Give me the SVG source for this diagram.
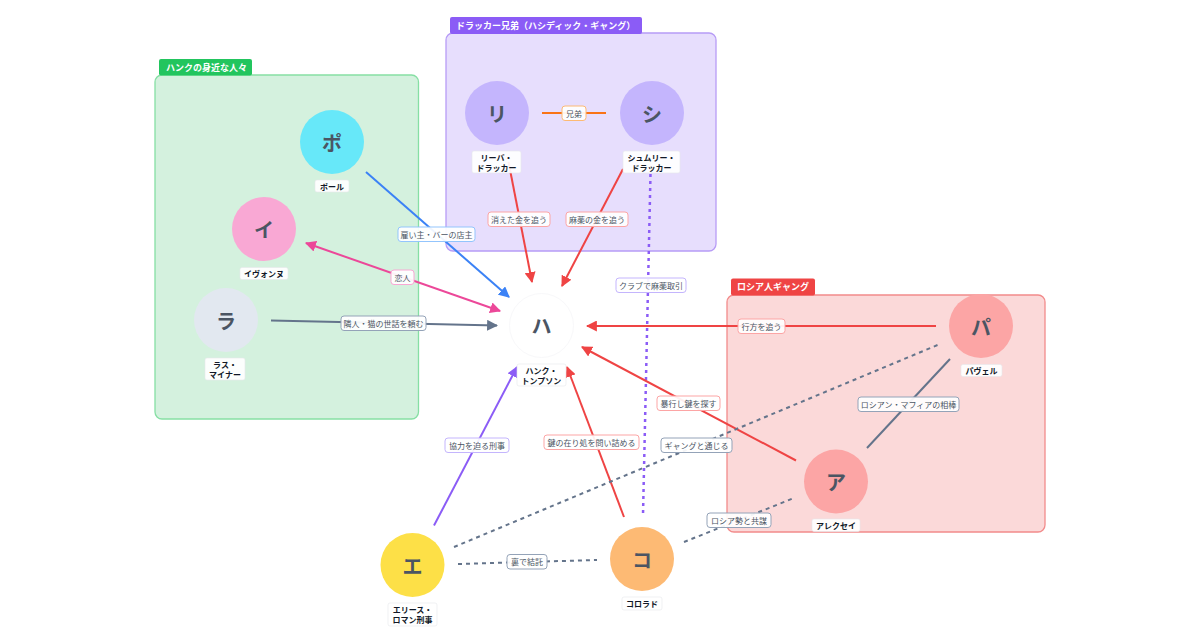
<svg xmlns="http://www.w3.org/2000/svg" width="1200" height="630" viewBox="0 0 1200 630">
<style>
text{font-family:"Noto Sans CJK JP","Noto Sans",sans-serif}
.grp{stroke-width:1.3}
.tab{font-size:9px;font-weight:bold;fill:#fff}
.ln{fill:none;stroke-width:2}
.dash{stroke-dasharray:4 4}
.dot{stroke-dasharray:3 4;stroke-width:2.5}
.el rect{fill:#fff;fill-opacity:.92;stroke-width:1}
.el text{font-size:8px;fill:#4b5563;text-anchor:middle;dominant-baseline:central}
.nd text.l{font-size:20px;font-weight:bold;fill:#4b5563;text-anchor:middle;dominant-baseline:central}
.nd rect{fill:#fff;fill-opacity:.92;stroke:#e5e7eb;stroke-width:.6}
.nd text.n{font-size:8px;font-weight:bold;fill:#111827;text-anchor:middle;dominant-baseline:central}
</style>
<defs>
<marker id="aBlue" viewBox="0 0 10 10" refX="9" refY="5" markerWidth="11" markerHeight="11" markerUnits="userSpaceOnUse" orient="auto-start-reverse"><path d="M0,0L10,5L0,10z" fill="#3b82f6"/></marker>
<marker id="aPink" viewBox="0 0 10 10" refX="9" refY="5" markerWidth="11" markerHeight="11" markerUnits="userSpaceOnUse" orient="auto-start-reverse"><path d="M0,0L10,5L0,10z" fill="#ec4899"/></marker>
<marker id="aGray" viewBox="0 0 10 10" refX="9" refY="5" markerWidth="11" markerHeight="11" markerUnits="userSpaceOnUse" orient="auto-start-reverse"><path d="M0,0L10,5L0,10z" fill="#64748b"/></marker>
<marker id="aRed" viewBox="0 0 10 10" refX="9" refY="5" markerWidth="11" markerHeight="11" markerUnits="userSpaceOnUse" orient="auto-start-reverse"><path d="M0,0L10,5L0,10z" fill="#ef4444"/></marker>
<marker id="aPurple" viewBox="0 0 10 10" refX="9" refY="5" markerWidth="11" markerHeight="11" markerUnits="userSpaceOnUse" orient="auto-start-reverse"><path d="M0,0L10,5L0,10z" fill="#8b5cf6"/></marker>
</defs>
<rect width="1200" height="630" fill="#fff"/>

<g id="groups">
<g id="group-hank">
<rect class="grp" x="155" y="75" width="263.5" height="344" rx="7" fill="#d4f1de" stroke="#86dfa4"/>
<rect x="159" y="59" width="93" height="16.5" rx="2" fill="#22c55e"/>
<text class="tab" x="166" y="70.5">ハンクの身近な人々</text>
</g>
<g id="group-drucker">
<rect class="grp" x="446" y="33" width="270" height="218" rx="7" fill="#e7defd" stroke="#b79cf6"/>
<rect x="450" y="17" width="192" height="17" rx="2" fill="#8b5cf6"/>
<text class="tab" x="456" y="28.5">ドラッカー兄弟（ハシディック・ギャング）</text>
</g>
<g id="group-russian">
<rect class="grp" x="727" y="295" width="318" height="237" rx="7" fill="#fbd9d9" stroke="#f28b8b"/>
<rect x="731" y="278.5" width="84" height="17" rx="2" fill="#ef4444"/>
<text class="tab" x="737" y="290">ロシア人ギャング</text>
</g>
</g>

<g id="connectors">
<line class="ln" x1="366" y1="172" x2="509" y2="297" stroke="#3b82f6" marker-end="url(#aBlue)"/>
<line class="ln" x1="306" y1="243" x2="500" y2="311" stroke="#ec4899" marker-start="url(#aPink)" marker-end="url(#aPink)"/>
<line class="ln" x1="271" y1="320.5" x2="497" y2="325.5" stroke="#64748b" marker-end="url(#aGray)"/>
<line class="ln" x1="508.5" y1="162" x2="532" y2="282" stroke="#ef4444" marker-end="url(#aRed)"/>
<line class="ln" x1="623" y1="169" x2="562" y2="286" stroke="#ef4444" marker-end="url(#aRed)"/>
<line class="ln dot" x1="650.5" y1="174" x2="643" y2="515" stroke="#8b5cf6"/>
<line class="ln" x1="542" y1="113" x2="606" y2="113" stroke="#f97316"/>
<line class="ln" x1="936" y1="326" x2="587" y2="326" stroke="#ef4444" marker-end="url(#aRed)"/>
<line class="ln" x1="796" y1="460.5" x2="582" y2="347" stroke="#ef4444" marker-end="url(#aRed)"/>
<line class="ln" x1="950" y1="359" x2="867" y2="448" stroke="#64748b"/>
<line class="ln" x1="434" y1="525.5" x2="517" y2="367" stroke="#8b5cf6" marker-end="url(#aPurple)"/>
<line class="ln" x1="624" y1="517" x2="567" y2="367" stroke="#ef4444" marker-end="url(#aRed)"/>
<line class="ln dash" x1="454" y1="547" x2="940" y2="344" stroke="#64748b"/>
<line class="ln dash" x1="458" y1="564" x2="597" y2="560" stroke="#64748b"/>
<line class="ln dash" x1="684" y1="542" x2="794" y2="498" stroke="#64748b"/>

<g class="el"><rect x="398" y="227" width="77" height="14.5" rx="3" stroke="#93c5fd"/><text x="436.5" y="234.3">雇い主・バーの店主</text></g>
<g class="el"><rect x="391" y="270" width="23" height="14.5" rx="3" stroke="#f9a8d4"/><text x="402.5" y="277.3">恋人</text></g>
<g class="el"><rect x="341" y="316" width="85" height="14.5" rx="3" stroke="#94a3b8"/><text x="383.5" y="323.3">隣人・猫の世話を頼む</text></g>
<g class="el"><rect x="488" y="212" width="62" height="14.5" rx="3" stroke="#fca5a5"/><text x="519" y="219.3">消えた金を追う</text></g>
<g class="el"><rect x="566" y="212" width="62" height="14.5" rx="3" stroke="#fca5a5"/><text x="597" y="219.3">麻薬の金を追う</text></g>
<g class="el"><rect x="616" y="278" width="70" height="14.5" rx="3" stroke="#c4b5fd"/><text x="651" y="285.3">クラブで麻薬取引</text></g>
<g class="el"><rect x="562" y="106" width="24" height="14.5" rx="3" stroke="#fdba74"/><text x="574" y="113.3">兄弟</text></g>
<g class="el"><rect x="738" y="319" width="47" height="14.5" rx="3" stroke="#fca5a5"/><text x="761.5" y="326.3">行方を追う</text></g>
<g class="el"><rect x="657" y="396" width="63" height="14.5" rx="3" stroke="#fca5a5"/><text x="688.5" y="403.3">暴行し鍵を探す</text></g>
<g class="el"><rect x="858" y="397" width="101" height="14.5" rx="3" stroke="#94a3b8"/><text x="908.5" y="404.3">ロシアン・マフィアの相棒</text></g>
<g class="el"><rect x="445" y="438" width="64" height="14.5" rx="3" stroke="#c4b5fd"/><text x="477" y="445.3">協力を迫る刑事</text></g>
<g class="el"><rect x="544" y="435" width="95" height="14.5" rx="3" stroke="#fca5a5"/><text x="591.5" y="442.3">鍵の在り処を問い詰める</text></g>
<g class="el"><rect x="661" y="438" width="71" height="14.5" rx="3" stroke="#94a3b8"/><text x="696.5" y="445.3">ギャングと通じる</text></g>
<g class="el"><rect x="507" y="554.5" width="40" height="14.5" rx="3" stroke="#94a3b8"/><text x="527" y="561.8">裏で結託</text></g>
<g class="el"><rect x="707" y="513" width="64" height="14.5" rx="3" stroke="#94a3b8"/><text x="739" y="520.3">ロシア勢と共謀</text></g>
</g>

<g id="node-paul" class="nd"><circle cx="332" cy="142" r="32" fill="#67e8f9"/><text class="l" x="332" y="142">ポ</text><rect x="315" y="180" width="34" height="12" rx="2"/><text class="n" x="332" y="186">ポール</text></g>
<g id="node-yvonne" class="nd"><circle cx="264" cy="229" r="32" fill="#f9a8d4"/><text class="l" x="264" y="229">イ</text><rect x="240" y="267.5" width="48" height="12" rx="2"/><text class="n" x="264" y="273.5">イヴォンヌ</text></g>
<g id="node-russ" class="nd"><circle cx="226" cy="320" r="32" fill="#e2e8f0"/><text class="l" x="226" y="320">ラ</text><rect x="205" y="358" width="40" height="22" rx="2"/><text class="n" x="225" y="364">ラス・</text><text class="n" x="225" y="374">マイナー</text></g>
<g id="node-lipa" class="nd"><circle cx="497" cy="113" r="32" fill="#c4b5fd"/><text class="l" x="497" y="113">リ</text><rect x="472" y="151" width="49" height="22" rx="2"/><text class="n" x="496.5" y="157">リーバ・</text><text class="n" x="496.5" y="167">ドラッカー</text></g>
<g id="node-shmully" class="nd"><circle cx="652" cy="113" r="32" fill="#c4b5fd"/><text class="l" x="652" y="113">シ</text><rect x="623" y="151" width="57" height="22" rx="2"/><text class="n" x="651.5" y="157">シュムリー・</text><text class="n" x="651.5" y="167">ドラッカー</text></g>
<g id="node-hank" class="nd"><circle cx="541.5" cy="325.5" r="32" fill="#fff" stroke="#f8f8fa" stroke-width="1"/><text class="l" x="541.5" y="325.5">ハ</text><rect x="517" y="364" width="49" height="22" rx="2"/><text class="n" x="541.5" y="370">ハンク・</text><text class="n" x="541.5" y="380">トンプソン</text></g>
<g id="node-pavel" class="nd"><circle cx="981" cy="326" r="32" fill="#fca5a5"/><text class="l" x="981" y="326">パ</text><rect x="961" y="364.5" width="41" height="12" rx="2"/><text class="n" x="981.5" y="370.5">パヴェル</text></g>
<g id="node-aleksei" class="nd"><circle cx="836" cy="481.5" r="32" fill="#fca5a5"/><text class="l" x="836" y="481.5">ア</text><rect x="812" y="519" width="48" height="12.5" rx="2"/><text class="n" x="836" y="525.3">アレクセイ</text></g>
<g id="node-elise" class="nd"><circle cx="412.5" cy="565" r="32" fill="#fde047"/><text class="l" x="412.5" y="565">エ</text><rect x="388" y="603" width="49" height="23" rx="2"/><text class="n" x="412.5" y="609.5">エリース・</text><text class="n" x="412.5" y="619.5">ロマン刑事</text></g>
<g id="node-colorado" class="nd"><circle cx="642" cy="559" r="32" fill="#fdba74"/><text class="l" x="642" y="559">コ</text><rect x="622" y="597" width="40" height="13" rx="2"/><text class="n" x="642" y="603.5">コロラド</text></g>
</svg>
